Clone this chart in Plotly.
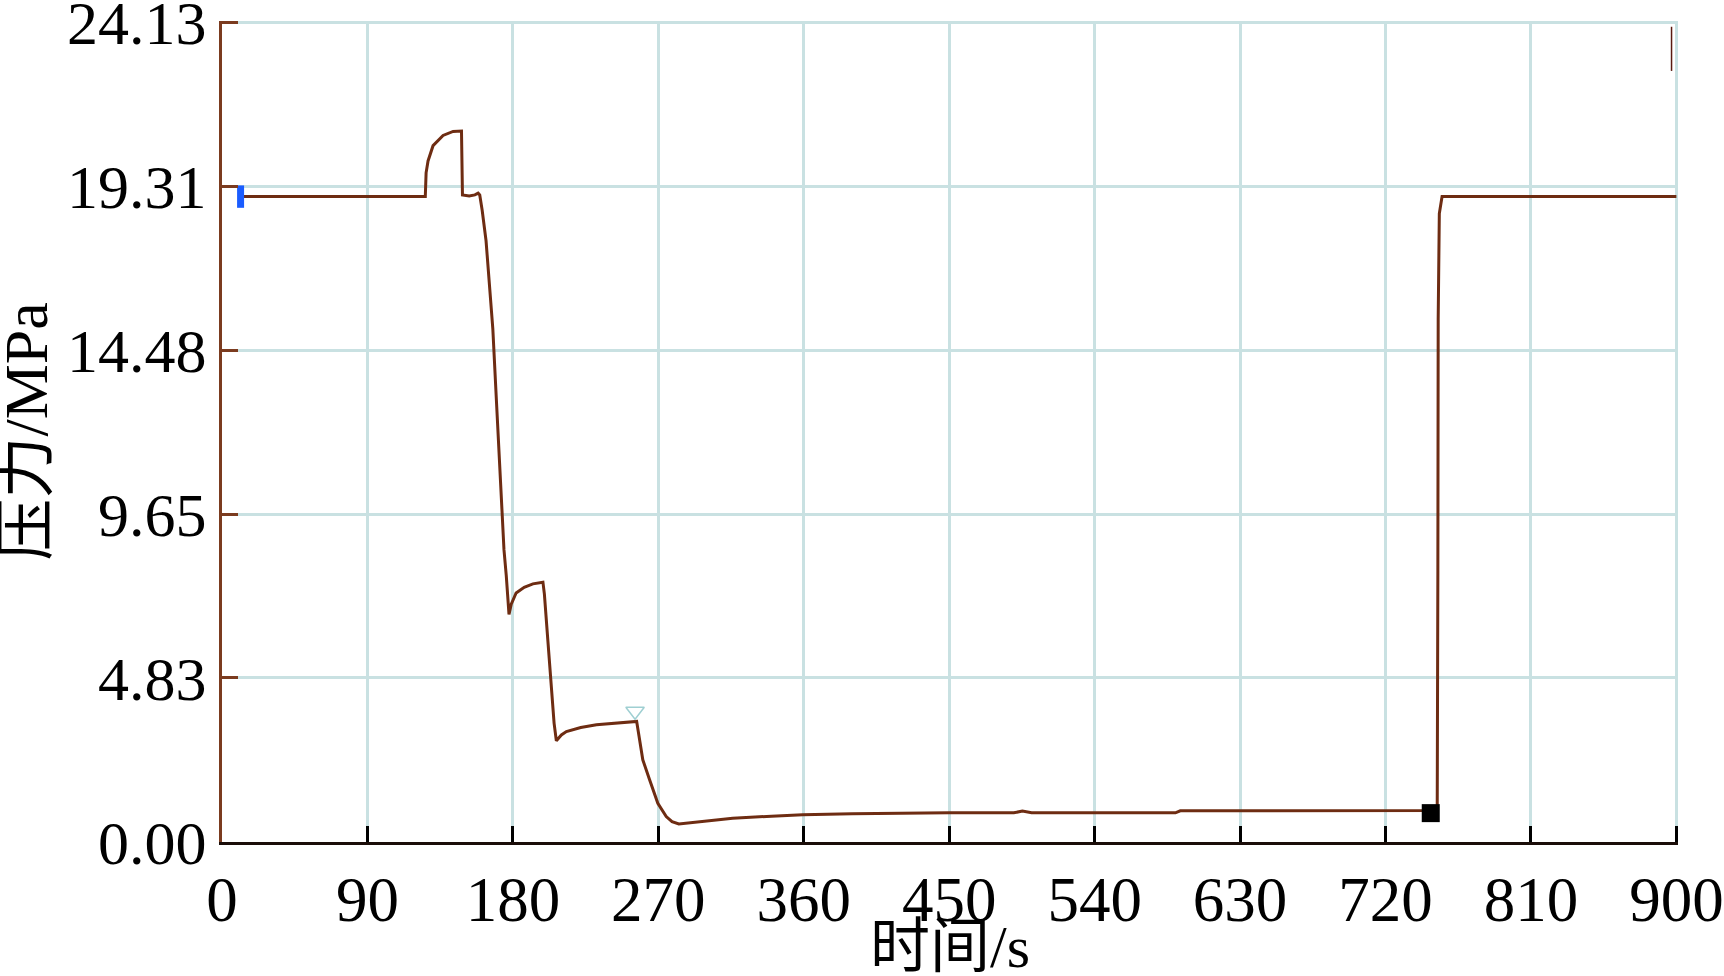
import plotly.graph_objects as go

# ── Données ───────────────────────────────────────────────
temps = [10, 125.8, 126.3, 127.5, 130.6, 136.8, 143, 148.2, 148.8, 153, 156.5, 158.5,
         159.5, 161, 163.4, 165.5, 167.6, 169.7, 171.3, 172.8, 174.5, 175.9, 177.6,
         179, 182, 187, 192.4, 198.6, 199.5, 201.7, 203.8, 205.5, 206.9, 210, 213.1,
         222, 231.7, 244, 256.6, 257.6, 260.4, 264.6, 269.7, 274.9, 278.5, 282.7,
         290, 300, 316, 340, 359.3, 390, 419, 450, 490, 495.3, 501, 542.7, 590, 593,
         650, 700, 752, 752.4, 752.6, 753.3, 755, 800, 900]
pression = [19.0, 19.0, 19.7, 20.05, 20.5, 20.8, 20.92, 20.93, 19.05, 19.02, 19.05, 19.1,
            19.05, 18.6, 17.7, 16.5, 15.1, 13.1, 11.5, 9.85, 8.6, 7.85, 6.7,
            7.0, 7.33, 7.5, 7.6, 7.65, 7.3, 5.9, 4.6, 3.5, 2.98, 3.15, 3.25,
            3.37, 3.45, 3.5, 3.55, 3.25, 2.42, 1.83, 1.14, 0.75, 0.6, 0.53,
            0.57, 0.62, 0.70, 0.76, 0.80, 0.83, 0.85, 0.86, 0.86, 0.91, 0.86, 0.86, 0.86, 0.92,
            0.93, 0.93, 0.93, 8.0, 15.4, 18.5, 19.0, 19.0, 19.0]

# marqueurs du logiciel
debut_t, debut_p = [11.5], [19.0]
tri_t, tri_p = [255.6], [3.85]
fin_t, fin_p = [748], [0.85]
trait_t, trait_p = [897, 897], [22.7, 24.0]

x_ticks = [0, 90, 180, 270, 360, 450, 540, 630, 720, 810, 900]
y_ticks = [0, 4.83, 9.65, 14.48, 19.31, 24.13]

BRUN = "#6e2c12"
GRILLE = "#c9e1e2"
POLICE = "Liberation Serif, Noto Sans CJK SC"

fig = go.Figure()
fig.add_trace(go.Scatter(x=temps, y=pression, mode="lines",
                         line=dict(color=BRUN, width=3), showlegend=False))
fig.add_trace(go.Scatter(x=trait_t, y=trait_p, mode="lines",
                         line=dict(color="#5a1a10", width=1.5), showlegend=False))
fig.add_trace(go.Scatter(x=debut_t, y=debut_p, mode="markers",
                         marker=dict(symbol="line-ns", size=16,
                                     line=dict(color="#1a5cff", width=7)),
                         showlegend=False))
fig.add_trace(go.Scatter(x=tri_t, y=tri_p, mode="markers",
                         marker=dict(symbol="triangle-down-open", size=16, color="#9fcfd2",
                                     line=dict(color="#9fcfd2", width=1.5)),
                         showlegend=False))
fig.add_trace(go.Scatter(x=fin_t, y=fin_p, mode="markers",
                         marker=dict(symbol="square", size=18, color="black"),
                         showlegend=False))

fig.update_layout(
    width=1724, height=976,
    margin=dict(l=222, r=46, t=21, b=134),
    paper_bgcolor="white", plot_bgcolor="white",
    font=dict(family=POLICE, size=62, color="black"),
)
# titres des axes placés à la main
fig.add_annotation(text="压力/MPa", xref="paper", yref="paper", x=-0.1353, y=0.5,
                   xanchor="center", yanchor="middle", textangle=-90, showarrow=False,
                   font=dict(family=POLICE, size=62))
fig.add_annotation(text="时间/s", xref="paper", yref="paper", x=0.5, y=-0.085,
                   xanchor="center", yanchor="top", showarrow=False,
                   font=dict(family=POLICE, size=60))

# bornes un peu élargies pour garder la grille et les ticks des bords
fig.update_xaxes(
    range=[0, 901], tickvals=x_ticks, ticktext=[str(v) for v in x_ticks],
    showgrid=True, gridcolor=GRILLE, gridwidth=2.5, zeroline=False,
    showline=True, linecolor="#1a0d08", linewidth=3,
    ticks="inside", ticklen=16, tickwidth=3, tickcolor="black",
    tickfont=dict(family=POLICE, size=63), ticklabeloverflow="allow",
    automargin=False,
)
fig.update_yaxes(
    range=[0, 24.17], tickvals=y_ticks, ticktext=[f"{v:.2f}" for v in y_ticks],
    showgrid=True, gridcolor=GRILLE, gridwidth=2.5, zeroline=False,
    showline=True, linecolor="#7b3b1f", linewidth=3,
    ticks="inside", ticklen=16, tickwidth=3, tickcolor="#7b3b1f",
    tickfont=dict(family=POLICE, size=62), ticklabeloverflow="allow",
    automargin=False,
)

fig.write_html("out.html", config={"displayModeBar": False},
               post_script="document.body.style.margin='0px';")
